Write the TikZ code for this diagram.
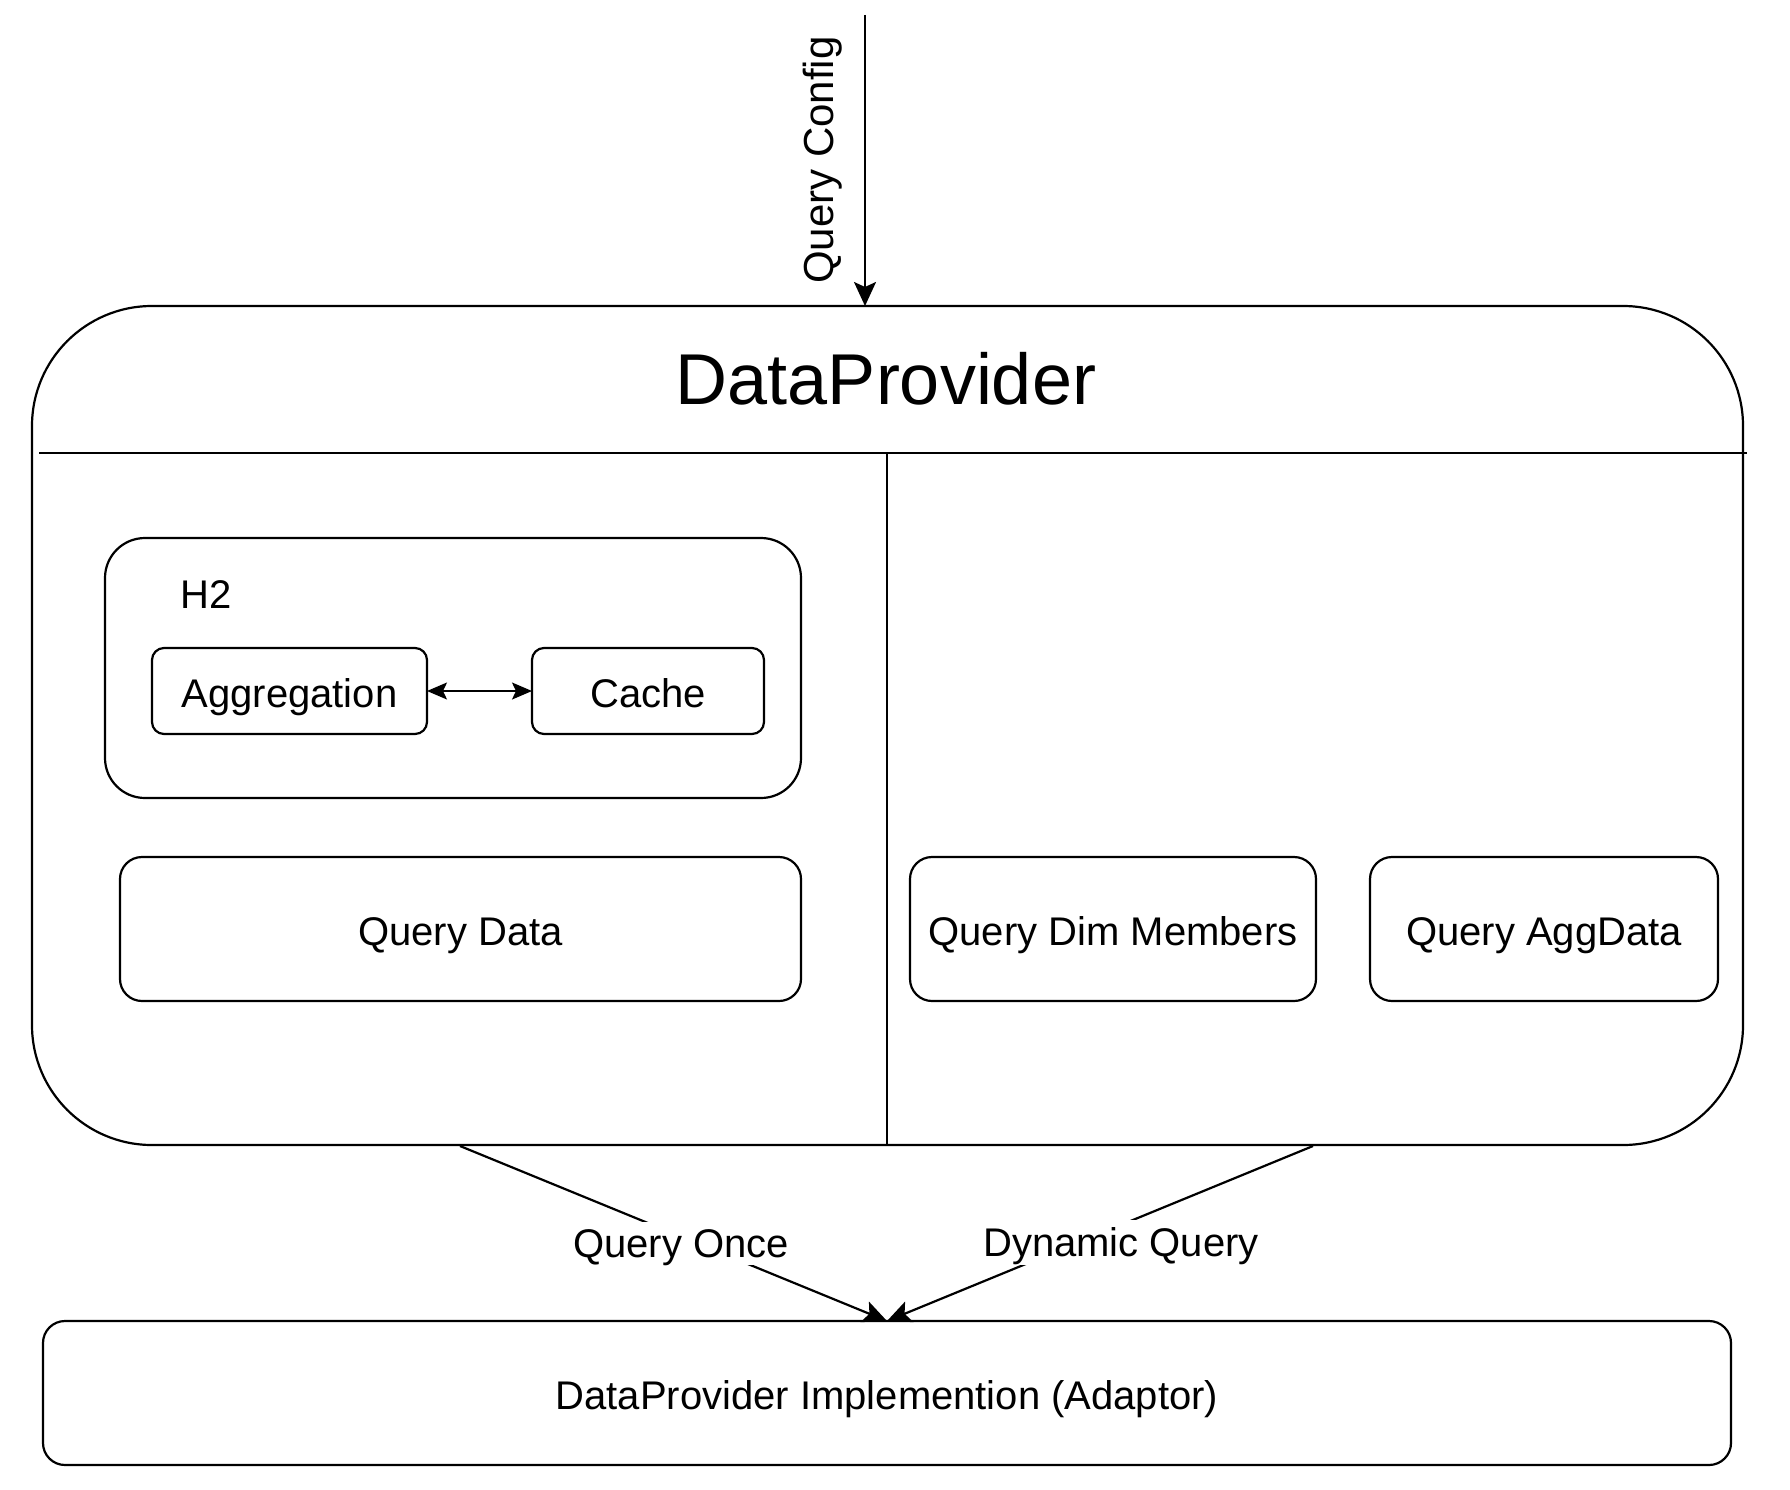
\documentclass[tikz,border=0pt]{standalone}
\usepackage{fontspec}
\setmainfont{Liberation Sans}
\usetikzlibrary{arrows.meta,calc}
\begin{document}
\begin{tikzpicture}[x=1pt,y=-1pt,
  every node/.style={inner sep=0pt, outer sep=0pt},
  box/.style={draw, line width=2.2pt, font=\fontsize{40}{48}\selectfont, text height=29pt, text depth=0pt},
  lbl/.style={font=\fontsize{40}{48}\selectfont, text height=29pt, text depth=0pt},
  conn/.style={line width=2.2pt},
  tip/.style={-{Stealth[length=24pt,width=22pt,inset=5pt]}},
  smalltip/.style={{Stealth[length=20pt,width=17pt,inset=4pt]}-{Stealth[length=20pt,width=17pt,inset=4pt]}}
]
\useasboundingbox (0,0) rectangle (1790,1490);

% main container
\node[box, rounded corners=120pt, minimum width=1711pt, minimum height=839pt] (dp) at (887.5,725.5) {};
\node[font=\fontsize{72}{86}\selectfont] (dptitle) at (886,379) {DataProvider};
\coordinate (sepl) at (39,453);
\coordinate (sepr) at (1747,453);
\draw[conn] (sepl) -- (sepr);
\coordinate (divtop) at (887,453);
\draw[conn] (divtop) -- (divtop |- dp.south);

% H2 group
\node[box, rounded corners=40pt, minimum width=696pt, minimum height=260pt] (h2) at (453,668) {};
\node[lbl] (h2label) at (206,594) {H2};
\node[box, rounded corners=12pt, minimum width=275pt, minimum height=86pt] (agg) at (289.5,691) {\raisebox{-2pt}{Aggregation}};
\node[box, rounded corners=12pt, minimum width=232pt, minimum height=86pt] (cache) at (648,691) {\raisebox{-2pt}{Cache}};
\draw[conn, line width=1.6pt, smalltip] (agg.east) -- (cache.west);

% query boxes
\node[box, rounded corners=22pt, minimum width=681pt, minimum height=144pt] (qdata) at (460.5,929) {\raisebox{-2pt}{Query Data}};
\node[box, rounded corners=22pt, minimum width=406pt, minimum height=144pt] (qdim) at (1113,929) {\raisebox{-2pt}{Query Dim Members}};
\node[box, rounded corners=22pt, minimum width=348pt, minimum height=144pt] (qagg) at (1544,929) {\raisebox{-2pt}{Query AggData}};

% implementation
\node[box, rounded corners=22pt, minimum width=1688pt, minimum height=144pt] (impl) at (887,1393) {\raisebox{-2pt}{DataProvider Implemention (Adaptor)}};

% top input arrow
\coordinate (qcstart) at (865,15);
\draw[conn, tip] (qcstart) -- (qcstart |- dp.north);
\node[font=\fontsize{42}{50}\selectfont, rotate=90] (qclabel) at (823,160) {Query Config};

% bottom connectors
\coordinate (qostart) at (460,1146);
\coordinate (dqstart) at (1313,1146);
\draw[conn, tip] (qostart) -- (impl.north);
\draw[conn, tip] (dqstart) -- (impl.north);
\node[lbl, fill=white, inner xsep=3pt, inner ysep=7pt] (qolabel) at (681,1243) {Query Once};
\node[lbl, fill=white, inner xsep=3pt, inner ysep=8pt] (dqlabel) at (1121,1242) {Dynamic Query};
\end{tikzpicture}
\end{document}
